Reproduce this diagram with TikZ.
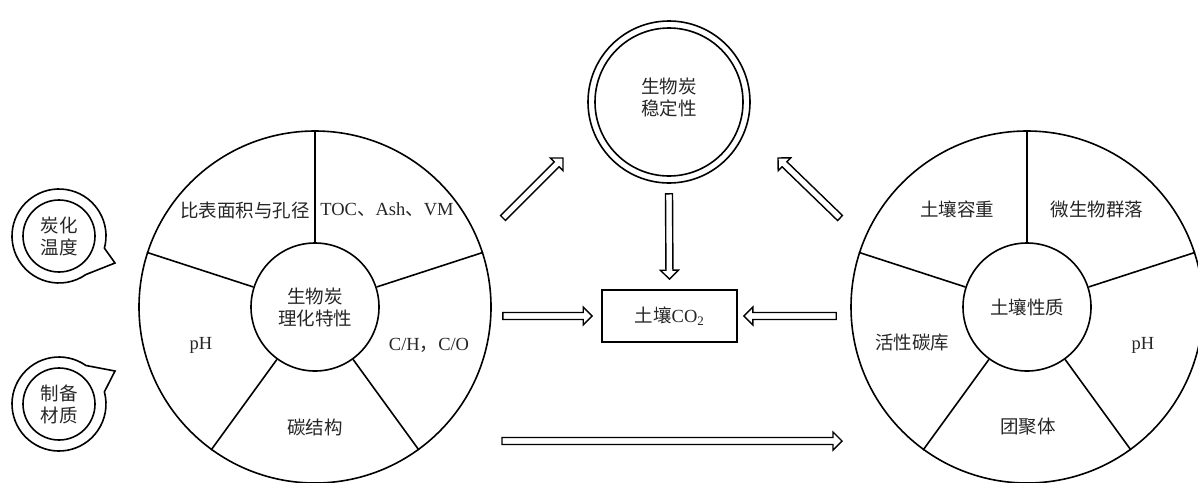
\documentclass[tikz,border=0pt]{standalone}
\usepackage{fontspec}
\setmainfont{Liberation Serif}
\newfontfamily\cjk{Noto Sans CJK SC}
\usetikzlibrary{calc}

\tikzset{
  ring/.style={circle, draw, inner sep=0pt, minimum size=#1},
  lbl/.style={font=\fontsize{18.5}{22}\selectfont, align=center, inner sep=0pt, text=black!85},
  fatarr/.style={draw, fill=white, line width=1.4pt, line join=miter},
}

% hollow block arrow from #1 to #2
\newcommand\fatarrow[2]{%
  \coordinate (fa-h) at ($(#2)!9pt!(#1)$);
  \draw[fatarr] ($(#1)!3.5pt!90:(#2)$) -- ($(fa-h)!3.5pt!90:(#2)$)
    -- ($(fa-h)!9pt!90:(#2)$) -- (#2) -- ($(fa-h)!9pt!-90:(#2)$)
    -- ($(fa-h)!3.5pt!-90:(#2)$) -- ($(#1)!3.5pt!-90:(#2)$) -- cycle;
}

\begin{document}
\begin{tikzpicture}[x=1pt, y=1pt, line width=1.6pt]
\useasboundingbox (0,0) rectangle (1198,-482);

% ---- biochar properties wheel
\node[ring=352pt] (phys) at (315,-307) {};
\node[ring=128pt, lbl] (physin) at (315,-307) {{\cjk 生物炭}\\{\cjk 理化特性}};
\foreach \a in {90,18,-54,-126,162} \draw (physin.\a) -- (phys.\a);
\node[lbl] (p1) at (245,-210) {\cjk 比表面积与孔径};
\node[lbl] (p2) at (387,-210) {TOC{\cjk 、}Ash{\cjk 、}VM};
\node[lbl] (p3) at (201,-345) {pH};
\node[lbl] (p4) at (429,-345) {C/H{\cjk ，}C/O};
\node[lbl] (p5) at (315,-427) {\cjk 碳结构};

% ---- soil properties wheel
\node[ring=352pt] (soil) at (1027,-307) {};
\node[ring=128pt, lbl] (soilin) at (1027,-307) {\cjk 土壤性质};
\foreach \a in {90,18,-54,-126,162} \draw (soilin.\a) -- (soil.\a);
\node[lbl] (s1) at (957,-209) {\cjk 土壤容重};
\node[lbl] (s2) at (1097,-209) {\cjk 微生物群落};
\node[lbl] (s3) at (912,-343) {\cjk 活性碳库};
\node[lbl] (s4) at (1143,-345) {pH};
\node[lbl] (s5) at (1028,-427) {\cjk 团聚体};

% ---- stability (double ring)
\node[ring=162pt] (stab) at (669,-102) {};
\draw (stab.center) circle[radius=74];
\node[lbl] (stabtxt) at (669,-97) {{\cjk 生物炭}\\{\cjk 稳定性}};

% ---- soil CO2 box
\node[draw, minimum width=135pt, minimum height=52pt, lbl] (co2) at (669.5,-316)
  {{\cjk 土壤}CO\textsubscript{2}};

% ---- factor bubbles
\node[ring=72pt, lbl] (temp) at (59,-236) {{\cjk 炭化}\\{\cjk 温度}};
\coordinate (temptip) at ($(temp.center)+(56,-27)$);
\draw ($(temp.center)+(-15:47)$) arc[start angle=-15, end angle=305, radius=47]
  -- (temptip) -- cycle;

\node[ring=72pt, lbl] (mat) at (59,-404) {{\cjk 制备}\\{\cjk 材质}};
\coordinate (mattip) at ($(mat.center)+(56,33)$);
\draw ($(mat.center)+(55:47)$) arc[start angle=55, end angle=375, radius=47]
  -- (mattip) -- cycle;

% ---- arrows
\coordinate (a1s) at ($(stab.south)+(0,-10)$);
\coordinate (a1e) at ($(co2.north)+(0,10)$);
\coordinate (a2s) at ($(phys.east |- co2.west)+(11,0)$);
\coordinate (a2e) at ($(co2.west)+(-9,0)$);
\coordinate (a3s) at ($(soil.west |- co2.east)+(-14,0)$);
\coordinate (a3e) at ($(co2.east)+(6,0)$);
\coordinate (a4s) at ($(phys.center)+(188,89)$);
\coordinate (a4e) at ($(stab.center)+(-106,-56)$);
\coordinate (a5s) at ($(soil.center)+(-187,89)$);
\coordinate (a5e) at ($(stab.center)+(109,-56)$);
\coordinate (a6s) at ($(phys.center)+(187,-134)$);
\coordinate (a6e) at ($(soil.center)+(-185,-134)$);
\fatarrow{a1s}{a1e}
\fatarrow{a2s}{a2e}
\fatarrow{a3s}{a3e}
\fatarrow{a4s}{a4e}
\fatarrow{a5s}{a5e}
\fatarrow{a6s}{a6e}
\end{tikzpicture}
\end{document}
